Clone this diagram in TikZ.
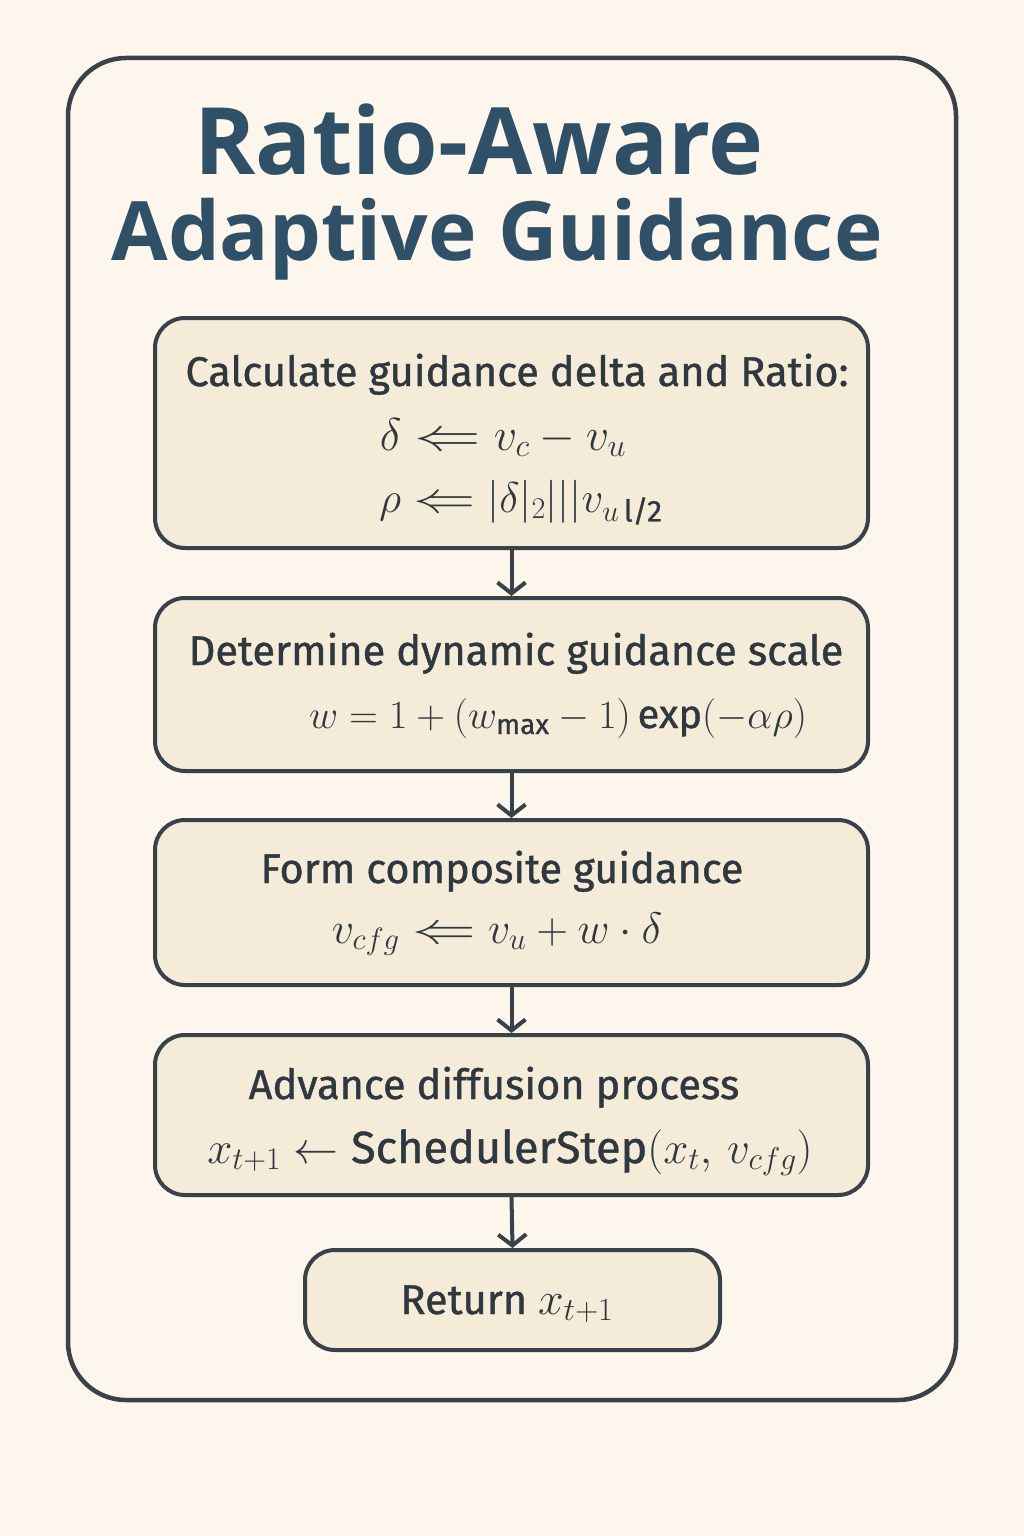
\RequirePackage{fix-cm}
\documentclass[tikz,border=0pt]{standalone}
\usepackage{amsmath}
\usepackage{graphicx}
\usepackage[no-math]{fontspec}
\setmainfont{Fira Sans}[FakeBold=1.0]
\newfontfamily\titlefont{Open Sans}
\usetikzlibrary{arrows.meta}
\definecolor{bgc}{HTML}{FCF6EC}
\definecolor{boxfill}{HTML}{F5EBD9}
\definecolor{edge}{HTML}{3A4249}
\definecolor{titlec}{HTML}{2F5066}
\definecolor{txt}{HTML}{30383F}
\tikzset{
  stepbox/.style={draw=edge, line width=4pt, fill=boxfill, rounded corners=30pt, inner sep=0pt},
  headtxt/.style={text=txt, font=\fontsize{41.5}{46}\selectfont, inner sep=0pt, anchor=base},
  mathtxt/.style={text=txt, inner sep=0pt, anchor=base},
  titletxt/.style={text=titlec, inner sep=0pt, anchor=base},
  flow/.style={draw=edge, line width=4pt, -{Straight Barb[length=11pt,width=28pt,line width=4pt]}}
}
\newcommand{\fs}[1]{\fontsize{#1}{#1}\selectfont}
\newcommand{\lgets}{\mathrel{\scalebox{1.45}[1]{$\Leftarrow$}}}
\begin{document}
\begin{tikzpicture}[x=1pt,y=-1pt]
\fill[bgc] (0,0) rectangle (1024,1536);
\useasboundingbox (0,0) rectangle (1024,1536);
\draw[edge, line width=4.5pt, rounded corners=58pt] (68,58) rectangle (956,1400);
% title
\node[titletxt, font=\titlefont\bfseries\fontsize{93}{100}\selectfont] (t1) at (479,175) {Ratio-Aware};
\node[titletxt, font=\titlefont\bfseries\fontsize{82}{90}\selectfont] (t2) at (497,260) {Adaptive Guidance};
% boxes
\node[stepbox, minimum width=713pt, minimum height=230pt] (b1) at (511.5,433) {};
\node[stepbox, minimum width=713pt, minimum height=173pt] (b2) at (511.5,684.5) {};
\node[stepbox, minimum width=713pt, minimum height=165pt] (b3) at (511.5,902.5) {};
\node[stepbox, minimum width=713pt, minimum height=160pt] (b4) at (511.5,1115) {};
\node[stepbox, minimum width=415pt, minimum height=100pt] (b5) at (512.5,1300) {};
% texts
\node[headtxt] (l11) at (517,386) {Calculate guidance delta and Ratio:};
\node[mathtxt, font=\fs{46}] (l12) at (503,450) {$\delta \lgets v_c - v_u$};
\node[mathtxt, font=\fs{43}] (l13) at (521,512) {$\rho \lgets |\delta|_2|||v_{u\,\text{l/2}}$};
\node[headtxt] (l21) at (516,665) {Determine dynamic guidance scale};
\node[mathtxt, font=\fs{40}] (l22) at (558,728) {$w = 1 + (w_{\text{max}} - 1)\,\text{exp}(-\alpha\rho)$};
\node[headtxt] (l31) at (502,883) {Form composite guidance};
\node[mathtxt, font=\fs{44}] (l32) at (497,943) {$v_{cfg} \lgets v_u + w\cdot\delta$};
\node[headtxt] (l41) at (494,1099) {Advance diffusion process};
\node[mathtxt, font=\fs{45}] (l42) at (510,1163) {$x_{t+1} \leftarrow \text{SchedulerStep}(x_t,\, v_{cfg})$};
\node[headtxt] (l51) at (507,1314) {Return {\fs{46}$x_{t+1}$}};
% arrows
\draw[flow] (b1.south) -- (b2.north);
\draw[flow] (b2.south) -- (b3.north);
\draw[flow] (b3.south) -- (b4.north);
\draw[flow] (b4.south) -- (b5.north);
\end{tikzpicture}
\end{document}
